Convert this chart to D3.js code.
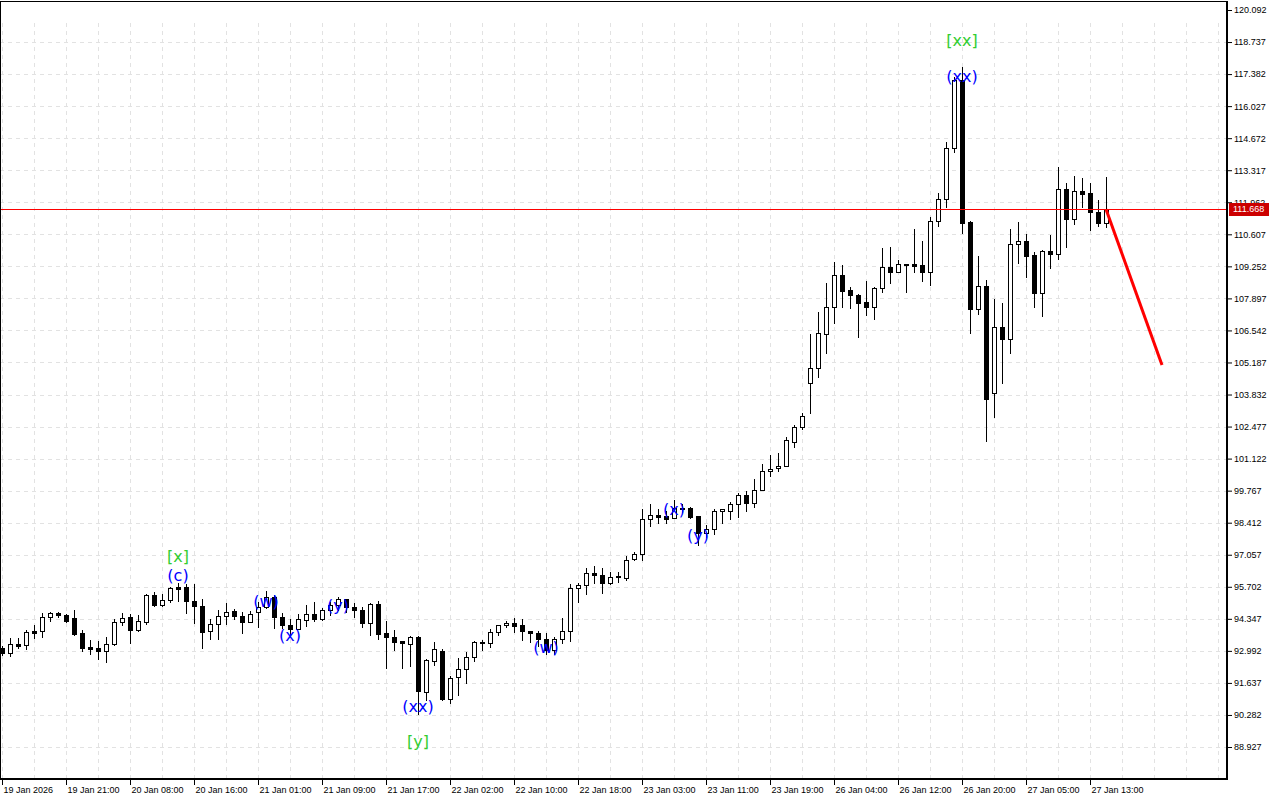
<!DOCTYPE html>
<html><head><meta charset="utf-8">
<script src="https://cdn.jsdelivr.net/npm/d3@7"></script>
<style>html,body{margin:0;padding:0;background:#fff;overflow:hidden}svg{display:block}</style>
</head><body><svg id="c" width="1280" height="800"></svg>
<script>
// ---- data ----
const open = [93.11,92.90,93.28,93.24,93.83,93.83,94.42,94.59,94.51,94.38,
93.74,93.15,93.11,92.98,93.28,94.21,94.42,93.87,94.21,95.35,
94.93,95.14,95.69,95.69,95.10,94.89,93.83,94.13,94.46,94.68,
94.46,94.21,94.63,94.84,95.27,94.42,94.08,93.91,94.29,94.55,
94.34,94.72,94.93,95.18,94.84,94.72,94.17,94.97,93.74,93.58,
93.41,93.28,93.58,91.25,92.56,92.98,90.95,91.88,92.22,92.73,
93.36,93.32,93.79,94.08,94.17,94.08,93.83,93.74,93.49,93.03,
93.49,93.83,95.65,95.77,96.28,96.20,95.86,96.16,96.07,96.87,
97.09,98.57,98.74,98.69,98.61,99.03,99.03,98.69,97.97,98.14,
98.90,98.90,99.20,99.58,99.24,99.79,100.60,100.72,100.81,101.82,
102.46,104.32,104.95,106.39,107.53,108.89,108.25,108.04,107.74,107.53,
108.34,109.22,109.01,109.35,109.35,109.31,109.01,111.17,112.10,114.26,
117.13,111.13,107.45,108.42,103.89,106.69,106.18,110.20,110.32,109.73,
108.12,109.90,109.77,112.52,111.25,112.44,112.35,111.55,111.08];
const high = [93.20,93.53,93.53,93.87,94.08,94.59,94.63,94.63,94.55,94.72,
93.87,93.45,93.41,93.58,94.34,94.59,94.55,94.51,95.39,95.48,
95.39,95.69,95.86,95.82,95.82,95.18,94.34,94.72,95.01,94.76,
94.63,94.68,95.06,95.52,95.35,94.59,94.34,94.55,94.93,95.06,
94.80,95.06,95.27,95.20,95.01,94.84,95.01,95.10,94.25,93.87,
93.42,93.62,93.60,92.65,93.36,93.07,91.93,92.69,92.94,93.41,
93.45,93.91,94.10,94.25,94.38,94.34,93.85,93.83,93.74,93.58,
94.38,95.82,95.86,96.49,96.58,96.49,96.32,96.32,97.00,97.17,
98.99,99.20,98.99,98.90,99.37,99.20,99.07,98.70,98.31,98.99,
98.99,99.28,99.67,99.75,100.26,100.89,101.27,101.36,102.03,102.54,
103.05,106.39,107.32,108.55,109.44,109.31,108.38,108.08,108.63,108.36,
110.03,110.07,109.52,109.36,110.83,110.32,111.34,112.35,114.51,117.26,
117.68,111.17,109.69,108.67,107.87,107.70,110.83,111.13,110.62,109.86,
109.94,110.58,113.45,112.78,113.07,112.99,112.78,112.06,113.03];
const low = [92.81,92.77,93.11,93.07,93.53,93.58,94.25,94.42,94.21,93.66,
92.98,92.86,92.65,92.52,93.26,94.08,93.32,93.85,94.13,94.89,
94.89,95.06,95.10,94.59,94.17,93.11,93.49,93.49,94.13,94.34,
93.74,94.20,94.00,94.80,93.96,93.96,93.66,93.90,94.04,94.25,
94.29,94.51,94.72,94.63,94.42,94.00,93.66,93.49,92.26,93.03,
92.26,92.35,90.32,90.91,92.39,90.91,90.78,91.12,91.63,92.56,
93.03,93.15,93.66,94.00,93.79,93.45,93.36,93.20,92.86,92.86,
93.32,93.41,95.06,95.39,95.86,95.44,95.84,95.90,95.99,96.83,
96.83,98.27,98.40,98.40,98.60,98.86,98.61,97.47,97.80,97.93,
98.40,98.57,98.65,98.90,99.07,99.78,100.38,100.60,100.80,101.61,
102.37,103.05,104.57,105.59,106.86,107.53,107.49,106.26,107.19,107.03,
108.17,108.55,109.00,108.17,109.01,108.63,108.46,110.96,111.76,114.09,
110.66,106.43,107.24,101.86,102.88,104.32,105.59,109.39,108.80,107.53,
107.15,109.18,109.56,110.07,111.04,111.76,110.79,110.96,110.92];
const close = [92.90,93.28,93.20,93.79,93.74,94.42,94.59,94.51,94.25,93.70,
93.11,93.07,92.98,93.28,94.21,94.38,93.87,94.25,95.35,94.93,
95.14,95.65,95.61,95.10,94.89,93.79,94.13,94.46,94.63,94.46,
94.21,94.55,94.84,95.27,94.42,94.08,93.91,94.34,94.55,94.34,
94.72,94.93,95.18,94.84,94.72,94.17,94.97,93.70,93.58,93.36,
93.32,93.58,91.29,92.60,93.07,90.95,91.84,92.22,92.73,93.36,
93.32,93.79,94.08,94.17,94.04,93.83,93.74,93.49,93.03,93.49,
93.83,95.65,95.77,96.28,96.20,95.86,96.11,96.11,96.83,97.09,
98.57,98.74,98.65,98.57,99.03,98.99,98.65,97.97,98.14,98.90,
98.97,99.20,99.58,99.24,99.79,100.60,100.68,100.81,101.91,102.46,
102.92,104.95,106.43,107.53,108.89,108.21,108.04,107.70,107.53,108.34,
109.22,109.01,109.35,109.31,109.27,109.01,111.17,112.10,114.26,117.13,
111.08,107.45,108.42,103.64,106.69,106.18,110.20,110.32,109.69,108.12,
109.90,109.77,112.52,111.25,112.44,112.31,111.55,111.08,111.668];

const priceTicks = [120.092,118.737,117.382,116.027,114.672,113.317,111.962,110.607,109.252,107.897,106.542,105.187,103.832,102.477,101.122,99.767,98.412,97.057,95.702,94.347,92.992,91.637,90.282,88.927];
const timeTickIdx = [0,8,16,24,32,40,48,56,64,72,80,88,96,104,112,120,128,136];
const timeTickLabels = ["19 Jan 2026","19 Jan 21:00","20 Jan 08:00","20 Jan 16:00","21 Jan 01:00","21 Jan 09:00","21 Jan 17:00","22 Jan 02:00","22 Jan 10:00","22 Jan 18:00","23 Jan 03:00","23 Jan 11:00","23 Jan 19:00","26 Jan 04:00","26 Jan 12:00","26 Jan 20:00","27 Jan 05:00","27 Jan 13:00"];

const waveText  = ["[x]","(c)","(w)","(x)","(y)","(xx)","[y]","(w)","(x)","(y)","[xx]","(xx)"];
const waveIdx   = [22,22,33,36,42,52,52,68,84,87,120,120];
const wavePrice = [97.00,96.20,95.10,93.66,94.93,90.66,89.14,93.15,98.95,97.89,118.82,117.30];
const waveLevel = ["major","minor","minor","minor","minor","minor","major","minor","minor","minor","major","minor"];

const lastPrice = 111.668;
const projIdx = [138,145];
const projPrice = [111.668,105.08];

// ---- drawing ----
const svg = d3.select('#c');
const plotR = 1227, plotB = 779;
const x = d3.scaleLinear().domain([0,138]).range([2,1106]);
const y = d3.scaleLinear().domain([88.927,120.092]).range([747,10]);
const gridColor = '#e2e2e2';

svg.append('rect').attr('width',1280).attr('height',800).attr('fill','#fff');

// grid
const gGrid = svg.append('g').attr('shape-rendering','crispEdges');
priceTicks.slice(1).forEach(p=>{
  const yy = Math.round(y(p))+0.5;
  gGrid.append('line').attr('x1',0).attr('x2',plotR).attr('y1',yy).attr('y2',yy)
    .attr('stroke',gridColor).attr('stroke-dasharray','4,4');
});
d3.range(0,153,4).forEach(i=>{
  const xx = Math.round(x(i))+0.5;
  if (xx < plotR) gGrid.append('line').attr('x1',xx).attr('x2',xx).attr('y1',23).attr('y2',plotB)
    .attr('stroke',gridColor).attr('stroke-dasharray','4,4');
});

// candles
const idx = d3.range(open.length);
const gC = svg.append('g').attr('shape-rendering','crispEdges');
gC.selectAll('line.w').data(idx).join('line').attr('class','w')
  .attr('x1',i=>Math.round(x(i))+0.5).attr('x2',i=>Math.round(x(i))+0.5)
  .attr('y1',i=>Math.round(y(high[i]))).attr('y2',i=>Math.round(y(low[i]))+1)
  .attr('stroke','#000').attr('stroke-width',1);
gC.selectAll('rect.b').data(idx).join('rect').attr('class','b')
  .attr('x',i=>Math.round(x(i))-1.5).attr('width',4)
  .attr('y',i=>Math.round(y(Math.max(open[i],close[i])))+0.5)
  .attr('height',i=>Math.max(0.01,Math.round(y(Math.min(open[i],close[i])))-Math.round(y(Math.max(open[i],close[i])))))
  .attr('fill',i=>close[i]>=open[i]?'#fff':'#000')
  .attr('stroke','#000').attr('stroke-width',1);

// last price line (drawn over the candles, as in the terminal)
svg.append('rect').attr('x',1).attr('y',Math.round(y(lastPrice))).attr('width',plotR-1).attr('height',1)
  .attr('fill','#ff0000').attr('shape-rendering','crispEdges');

// projection
svg.append('line')
  .attr('x1',x(projIdx[0])).attr('y1',y(projPrice[0]))
  .attr('x2',x(projIdx[1])).attr('y2',y(projPrice[1]))
  .attr('stroke','#ff0000').attr('stroke-width',3);

// wave labels
svg.append('g').selectAll('text').data(waveText).join('text')
  .attr('x',(d,i)=>x(waveIdx[i])).attr('y',(d,i)=>y(wavePrice[i]))
  .attr('text-anchor','middle').attr('dominant-baseline','central')
  .attr('font-family','DejaVu Sans').attr('font-size',16)
  .attr('fill',(d,i)=>waveLevel[i]==='major'?'#32cd32':'#0000ff')
  .text(d=>d);

// frame
svg.append('rect').attr('x',0.5).attr('y',1.5).attr('width',plotR-0.5).attr('height',plotB-1.5)
  .attr('fill','none').attr('stroke','#000');
svg.append('line').attr('x1',plotR).attr('x2',plotR).attr('y1',1).attr('y2',plotB+1).attr('stroke','#000').attr('stroke-width',2);
svg.append('line').attr('x1',0).attr('x2',plotR+1).attr('y1',plotB).attr('y2',plotB).attr('stroke','#000').attr('stroke-width',2);

// axes
const fontFam = 'Liberation Sans, Arial, sans-serif';
const ax = svg.append('g').attr('transform',`translate(${plotR+1},0)`)
  .call(d3.axisRight(y).tickValues(priceTicks).tickFormat(d3.format('.3f')).tickSize(4).tickPadding(2));
ax.select('.domain').remove();
ax.selectAll('text').attr('font-family',fontFam).attr('font-size',9).attr('fill','#000');

const bx = svg.append('g').attr('transform',`translate(0,${plotB})`)
  .call(d3.axisBottom(x).tickValues(timeTickIdx).tickFormat((d,i)=>timeTickLabels[i]).tickSize(6).tickPadding(2));
bx.select('.domain').remove();
bx.selectAll('text').attr('font-family',fontFam).attr('font-size',9).attr('fill','#000')
  .attr('text-anchor','start').attr('x',1);

// last price tag (covers the neighbouring tick label, as in the terminal)
svg.append('rect').attr('x',plotR+2).attr('y',Math.round(y(lastPrice))-6).attr('width',40).attr('height',13).attr('fill','#cc0000');
svg.append('text').attr('x',plotR+6).attr('y',y(lastPrice)).attr('dy','0.35em')
  .attr('font-family',fontFam).attr('font-size',9).attr('fill','#fff').text(lastPrice.toFixed(3));
</script></body></html>
